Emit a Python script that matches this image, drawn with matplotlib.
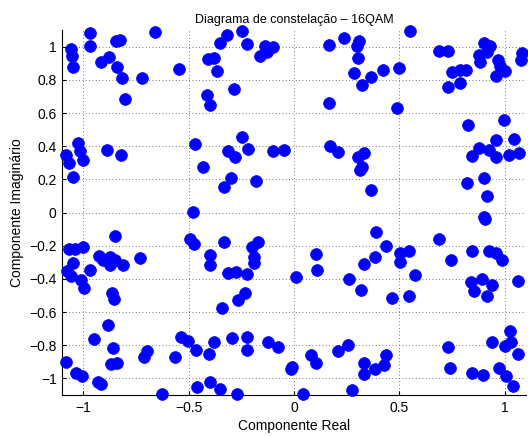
import matplotlib
matplotlib.use("Agg")
import matplotlib.pyplot as plt

# received 16QAM symbols (in-phase / quadrature)
comp_real = [
    -1.060, -1.052, -1.049, -0.970, -0.970, -0.918, -0.879, -0.847, -0.828, -0.839,
    -0.815, -0.804, -0.724, -0.658, -0.544,
    -1.025, -1.084, -1.068, -1.016, -1.002, -1.047, -0.886, -0.820, -0.468, -0.432, -0.479,
    -0.407, -0.378, -0.367, -0.354, -0.320, -0.245, -0.225, -0.138, -0.098, -0.130,
    -0.161, -0.283, -0.415, -0.399,
    0.166, 0.237, 0.309, 0.297, 0.305, 0.285, 0.324, 0.364, 0.166,
    -0.315, -0.280, -0.248, -0.217, -0.299, -0.335, -0.182, -0.101, -0.047,
    0.171, 0.206, 0.302, 0.333, 0.313, 0.321, 0.364,
    0.421, 0.500, 0.548, 0.487, 0.689, 0.730, 0.749, 0.789, 0.817, 0.729, 0.786,
    0.900, 0.932, 0.879, 0.916, 0.884, 0.967, 0.976, 1.000, 0.956, 1.083, 1.075,
    0.825, 0.995, 0.960, 1.043, 0.876, 0.924, 0.844, 0.956, 1.019, 1.067,
    0.821, 0.900, 0.916, 0.903,
    -1.068, -1.039, -1.000, -0.852, -1.047, -1.076, -1.057, -0.970, -1.009, -0.997,
    -0.926, -0.905, -0.874, -0.852, -0.874, -0.811, -0.729, -0.863, -0.855,
    -0.882, -0.950, -0.858, -0.871, -0.842, -1.084, -1.036, -1.005, -0.929, -0.915,
    -0.713, -0.700, -0.626, -0.563, -0.536, -0.503, -0.465, -0.402, -0.459, -0.397,
    -0.495, -0.476, -0.401, -0.401,
    -0.335, -0.267, -0.233, -0.340, -0.315, -0.275, -0.222, -0.201, -0.169, -0.190,
    -0.188, 0.008, 0.104, 0.111, 0.261, 0.316, 0.334,
    -0.380, -0.296, -0.222, -0.225, -0.122, -0.078, -0.016, -0.008, -0.354, -0.272,
    0.044, 0.081, 0.104, 0.207, 0.255, 0.274, 0.334, 0.334,
    0.389, 0.384, 0.437, 0.503, 0.543, 0.503, 0.575, 0.463, 0.543, 0.686, 0.744,
    0.844, 0.924, 0.960, 0.987, 0.905, 0.840, 0.892, 0.937, 0.856, 0.916, 1.063,
    0.384, 0.427, 0.437, 0.729, 0.738, 0.844, 0.897, 0.940, 1.024, 1.027, 1.003,
    1.063, 0.971, 1.006, 1.038,
]
comp_imag = [
    0.986, 0.946, 0.876, 1.080, 1.006, 0.910, 0.936, 1.036, 1.042, 0.876,
    0.812, 0.686, 0.812, 1.090, 0.866,
    0.422, 0.346, 0.300, 0.372, 0.316, 0.216, 0.380, 0.346, 0.416, 0.276, 0.005,
    0.926, 0.930, 0.852, 1.020, 1.072, 1.096, 1.016, 1.006, 0.996, 0.966,
    0.942, 0.746, 0.706, 0.646,
    1.012, 1.050, 1.032, 1.006, 0.932, 0.842, 0.766, 0.816, 0.662,
    0.372, 0.336, 0.456, 0.386, 0.206, 0.156, 0.192, 0.370, 0.376,
    0.402, 0.366, 0.336, 0.356, 0.256, 0.276, 0.136,
    0.860, 0.870, 1.092, 0.632, 0.972, 0.972, 0.846, 0.860, 0.860, 0.756, 0.780,
    1.020, 1.006, 0.952, 0.966, 0.906, 0.920, 0.886, 0.852, 0.826, 0.960, 0.920,
    0.526, 0.560, 0.440, 0.446, 0.392, 0.376, 0.340, 0.332, 0.346, 0.356,
    0.176, 0.206, 0.100, -0.024,
    -0.219, -0.219, -0.205, -0.143, -0.303, -0.353, -0.384, -0.345, -0.404, -0.452,
    -0.259, -0.289, -0.269, -0.285, -0.319, -0.315, -0.275, -0.488, -0.524,
    -0.677, -0.763, -0.817, -0.916, -0.910, -0.900, -0.966, -0.986, -1.020, -1.036,
    -0.873, -0.837, -1.096, -0.873, -0.753, -0.777, -0.831, -0.853, -1.052, -1.022,
    -0.159, -0.189, -0.255, -0.319,
    -0.179, -0.528, -0.484, -0.578, -0.363, -0.359, -0.369, -0.209, -0.179, -0.269,
    -0.303, -0.388, -0.249, -0.345, -0.402, -0.468, -0.309,
    -0.783, -0.757, -0.753, -0.827, -0.783, -0.811, -0.942, -0.930, -1.066, -1.092,
    -1.096, -0.857, -0.910, -0.837, -0.797, -1.072, -0.910, -0.976,
    -0.116, -0.269, -0.203, -0.245, -0.233, -0.299, -0.378, -0.518, -0.502, -0.159, -0.289,
    -0.233, -0.233, -0.245, -0.289, -0.040, -0.418, -0.398, -0.438, -0.474, -0.504, -0.414,
    -0.946, -0.922, -0.857, -0.813, -0.936, -0.970, -0.980, -0.783, -0.717, -0.783, -0.807,
    -0.853, -0.940, -0.986, -1.046,
]

x_ticks = [-1, -0.5, 0, 0.5, 1]
y_ticks = [-1, -0.8, -0.6, -0.4, -0.2, 0, 0.2, 0.4, 0.6, 0.8, 1]

plt.rcParams["font.family"] = ["Liberation Sans", "DejaVu Sans"]

fig = plt.figure(figsize=(5.28, 4.36), dpi=100)
ax = fig.add_axes([0.118, 0.094, 0.878, 0.837])

ax.plot(comp_real, comp_imag, "o", color="#0000ff", markersize=8.5,
        markeredgewidth=0.5, clip_on=False, zorder=3)

ax.set_xlim(-1.1, 1.1)
ax.set_ylim(-1.1, 1.1)
ax.set_xticks(x_ticks)
ax.set_yticks(y_ticks)
ax.set_xticklabels([f"{t:g}".replace("-", "\u2212") for t in x_ticks])
ax.set_yticklabels([f"{t:g}".replace("-", "\u2212") for t in y_ticks])

# matlab look: box off, dotted grid, ticks inside
ax.spines["top"].set_visible(False)
ax.spines["right"].set_visible(False)
ax.tick_params(direction="in", length=3, labelsize=10, pad=4)
ax.grid(True, linestyle=(0, (1, 3)), color="0.3", linewidth=0.6)
ax.set_axisbelow(True)

ax.set_title("Diagrama de constelação – 16QAM", fontsize=9, pad=5)
ax.set_xlabel("Componente Real", fontsize=10, labelpad=3)
ax.set_ylabel("Componente Imaginário", fontsize=10, labelpad=4)

fig.savefig("out.png", dpi=100)
